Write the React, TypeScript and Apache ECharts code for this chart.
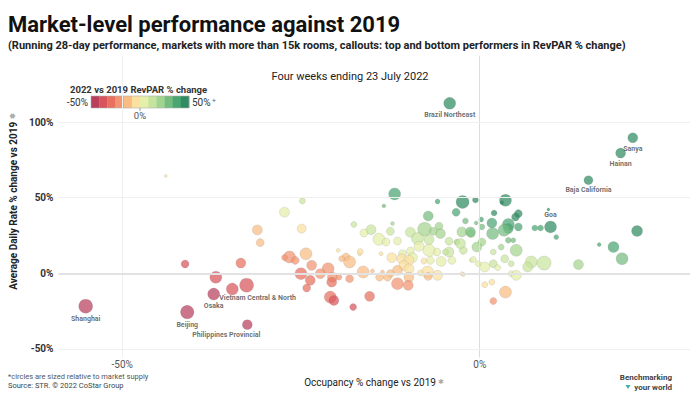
import React, { useEffect, useRef } from "react";
import * as echarts from "echarts";

// ---------- DATA ----------
const calloutNames = [
  "Shanghai",
  "Beijing",
  "Osaka",
  "Philippines Provincial",
  "Vietnam Central & North",
  "Brazil Northeast",
  "Sanya",
  "Hainan",
  "Baja California",
  "Goa",
];
const calloutOcc = [-55.1, -40.9, -37.2, -32.5, -32.6, -4.2, 21.4, 19.7, 15.2, 9.9];
const calloutAdr = [-21.7, -25.6, -13.7, -33.9, -7.8, 112.4, 89.6, 79.5, 61.6, 30.7];
const calloutSupply = [322, 300, 237, 164, 322, 237, 164, 164, 133, 237];

// [occupancy % change, ADR % change, supply (k rooms)]
const otherMarkets: [number, number, number][] = [
  [-43.9, 64.4, 15], [-24.8, 47.9, 59], [-27.3, 40.4, 164], [-31.1, 28.7, 164],
  [-24.9, 29.6, 133], [-30.7, 20.3, 105], [-24.3, 12.9, 237], [-26.6, 10.8, 237],
  [-27.3, 10.4, 59], [-25.8, 8.6, 105], [-33.4, 6.8, 164], [-41.2, 6.2, 105],
  [-36.9, -2.6, 237], [-25.0, -0.2, 237], [-23.7, -4.6, 164], [-24.2, -9.7, 105],
  [-34.6, -10.4, 237], [-11.9, 52.5, 237], [-13.4, 44.6, 26], [-5.9, 47.5, 41],
  [-2.4, 47.2, 278], [-0.6, 48.5, 59], [-3.3, 40.4, 105], [-7.2, 37.9, 164],
  [-2.0, 34.6, 59], [-0.5, 33.3, 26], [-17.6, 32.3, 59], [-12.2, 32.9, 26],
  [-15.2, 28.9, 164], [-16.2, 26.7, 105], [-14.1, 22.5, 237], [-12.5, 27.8, 105],
  [-13.1, 20.7, 105], [-11.5, 21.4, 105], [-9.7, 27.2, 164], [-7.7, 29.1, 322],
  [-5.7, 31.1, 105], [-5.5, 26.3, 164], [-6.5, 27.8, 105], [-8.7, 23.0, 237],
  [-7.1, 22.3, 164], [-4.3, 21.2, 105], [-2.5, 27.4, 164], [-1.2, 26.3, 105],
  [-3.2, 20.7, 59], [-2.3, 15.2, 105], [-4.3, 14.1, 164], [-6.0, 14.1, 105],
  [-7.1, 15.2, 237], [-8.5, 17.9, 164], [-9.7, 14.8, 105], [-10.8, 13.0, 105],
  [-9.4, 10.4, 164], [-3.9, 8.6, 105], [-5.4, 7.9, 164], [-6.9, 8.6, 105],
  [-7.8, 8.1, 59], [-1.2, 8.6, 26], [-12.3, 10.4, 164], [-10.9, 9.7, 164],
  [-9.9, 8.6, 164], [-10.6, 5.3, 164], [-9.9, 3.1, 164], [-11.5, 2.0, 164],
  [-12.5, -0.2, 105], [-9.9, -2.5, 164], [-11.5, -6.8, 237], [-10.0, -7.9, 164],
  [-7.3, 0.9, 237], [-7.2, -2.0, 105], [-5.9, -1.3, 164], [-8.3, 0.2, 59],
  [-2.3, -0.7, 26], [-13.6, 0.9, 26], [-16.8, 13.0, 26], [-18.7, 10.8, 105],
  [-18.2, 7.5, 237], [-19.3, 9.7, 59], [-19.8, 15.2, 26], [-16.7, 14.4, 59],
  [-13.8, 13.0, 26], [-23.5, 5.3, 164], [-21.2, 3.1, 237], [-22.3, -0.2, 164],
  [-20.6, -2.5, 164], [-20.7, -5.8, 164], [-19.7, -2.5, 59], [-18.2, -3.5, 105],
  [-16.3, 0.9, 237], [-15.0, 1.5, 26], [-14.0, -2.5, 105], [-12.9, -2.5, 105],
  [-20.9, -15.7, 237], [-20.4, -17.9, 164], [-15.4, -15.2, 164], [-17.7, -22.3, 80],
  [3.6, 48.3, 237], [3.1, 46.8, 26], [2.0, 39.9, 59], [5.4, 39.5, 105],
  [5.0, 37.3, 105], [0.2, 35.6, 41], [1.7, 33.3, 164], [4.0, 32.3, 237],
  [5.4, 30.7, 105], [4.0, 29.6, 164], [7.7, 30.0, 59], [8.5, 30.0, 59],
  [9.6, 42.2, 15], [10.7, 24.0, 41], [-1.3, 27.4, 164], [0.3, 30.7, 59],
  [1.8, 26.3, 237], [3.4, 28.5, 237], [4.0, 21.9, 59], [4.7, 21.9, 41],
  [0.3, 20.7, 105], [-0.4, 17.4, 164], [1.9, 14.1, 59], [3.0, 17.4, 59],
  [5.1, 15.2, 237], [3.5, 9.7, 105], [4.4, 6.4, 59], [1.9, 6.4, 105],
  [0.7, 4.2, 164], [2.5, 3.8, 59], [4.4, -0.2, 59], [7.2, 7.5, 237],
  [6.7, 4.2, 164], [9.0, 6.8, 322], [5.1, -1.3, 164], [-2.7, 19.7, 164],
  [-4.8, 14.1, 59], [-0.9, 9.1, 59], [-0.2, 6.4, 59], [-2.5, -0.2, 26],
  [0.7, -7.5, 59], [1.7, -5.8, 59], [3.6, -12.4, 237], [1.9, -18.3, 80],
  [22.0, 28.0, 199], [18.7, 17.4, 199], [19.9, 9.7, 237], [16.7, 19.0, 26],
  [13.8, 5.8, 164],
];

const xTickValues = [-50, 0];
const yTickValues = [-50, 0, 50, 100];
const legendColors = [
  "#b83f5d", "#d8545c", "#e8705f", "#f29470", "#f9bd83", "#fbe0a0",
  "#e5efa9", "#c7e49c", "#a3d48f", "#74bd7f", "#4aa571", "#2f8b61",
];
const legendMin = -50;
const legendMax = 50;

// ---------- HELPERS ----------
const revpar = (o: number, a: number) => ((1 + o / 100) * (1 + a / 100) - 1) * 100;

const labelPlacement: Record<string, any> = {
  Goa: { position: "top", distance: 2 },
  "Philippines Provincial": { position: "bottom", distance: 2, offset: [-21, 0] },
  "Vietnam Central & North": { position: "bottom", distance: 2, offset: [11, 0] },
};

const FONT = "Roboto, 'Noto Sans', sans-serif";

export default function App() {
  const ref = useRef<HTMLDivElement>(null);

  useEffect(() => {
    if (!ref.current) return;
    const chart = echarts.init(ref.current, undefined, { renderer: "svg" });

    const pts: any[] = otherMarkets.map(([o, a, s]) => ({ value: [o, a, s, revpar(o, a)] }));
    calloutNames.forEach((n, i) => {
      const o = calloutOcc[i];
      const a = calloutAdr[i];
      const pl = labelPlacement[n] || { position: "bottom", distance: 2 };
      pts.push({
        name: n,
        value: [o, a, calloutSupply[i], revpar(o, a)],
        label: {
          show: true,
          formatter: "{b}",
          fontSize: 7,
          fontWeight: "bold",
          color: "#333",
          fontFamily: FONT,
          ...pl,
        },
      });
    });

    const step = (legendMax - legendMin) / legendColors.length;
    const pieces = legendColors.map((c, i) => {
      const lo = legendMin + i * step;
      const hi = lo + step;
      if (i === 0) return { lt: hi, color: c };
      if (i === legendColors.length - 1) return { gte: lo, color: c };
      return { gte: lo, lt: hi, color: c };
    });

    const gridLine = (c: string, w: number) => ({ color: c, width: w, type: "solid" });
    const markData: any[] = [
      ...xTickValues.map((v) => ({ xAxis: v, lineStyle: gridLine(v === 0 ? "#dcdcdc" : "#efefef", 1) })),
      ...yTickValues.map((v) => ({ yAxis: v, lineStyle: gridLine(v === 0 ? "#e2e2e2" : "#f0f0f0", v === 0 ? 2 : 1) })),
    ];

    // Legend graphic
    const lgX = 91;
    const lgY = 96;
    const sw = 98 / legendColors.length;
    const legendEls: any[] = legendColors.map((c, i) => ({
      type: "rect",
      shape: { x: lgX + i * sw, y: lgY, width: sw + 0.3, height: 12 },
      style: { fill: c },
      silent: true,
    }));
    legendEls.push({
      type: "rect",
      shape: { x: lgX, y: lgY, width: 98, height: 12 },
      style: { fill: "none", stroke: "#b0b0b0", lineWidth: 0.6 },
      silent: true,
    });
    legendEls.push({
      type: "line",
      shape: { x1: lgX + 49, y1: lgY + 12, x2: lgX + 49, y2: lgY + 15 },
      style: { stroke: "#888", lineWidth: 0.8 },
    });

    const txt = (text: string, x: number, y: number, o: any = {}) => ({
      type: "text",
      x,
      y,
      silent: true,
      style: {
        text,
        fontFamily: FONT,
        fontSize: 10,
        fill: "#333",
        align: "left",
        verticalAlign: "middle",
        ...o,
      },
    });

    chart.setOption({
      animation: false,
      backgroundColor: "#ffffff",
      textStyle: { fontFamily: FONT },
      grid: { left: 53, right: 10, top: 56, bottom: 37 },
      xAxis: {
        type: "value",
        min: -58.9,
        max: 29.4,
        splitLine: { show: false },
        axisLine: { show: false },
        axisTick: { show: false, customValues: xTickValues },
        axisLabel: {
          customValues: xTickValues,
          formatter: (v: number) => `${v}%`,
          color: "#555",
          fontSize: 10,
          margin: 2,
          fontFamily: FONT,
        },
        name: "Occupancy % change vs 2019 {i|✱}",
        nameLocation: "middle",
        nameGap: 20,
        nameTextStyle: {
          fontSize: 10,
          color: "#222",
          fontFamily: FONT,
          rich: { i: { fontSize: 7, color: "#aaa" } },
        },
      },
      yAxis: {
        type: "value",
        min: -55.3,
        max: 143.7,
        splitLine: { show: false },
        axisLine: { show: true, lineStyle: { color: "#e8e8e8", width: 1 } },
        axisTick: { show: false, customValues: yTickValues },
        axisLabel: {
          customValues: yTickValues,
          formatter: (v: number) => `${v}%`,
          color: "#333",
          fontSize: 10,
          fontWeight: "bold",
          margin: 5,
          fontFamily: FONT,
        },
        name: "Average Daily Rate % change vs 2019 {i|✱}",
        nameLocation: "middle",
        nameGap: 28,
        nameRotate: 90,
        nameTextStyle: {
          fontSize: 10,
          fontWeight: "bold",
          color: "#222",
          fontFamily: FONT,
          padding: [0, 0, 0, 10],
          rich: { i: { fontSize: 7, color: "#aaa" } },
        },
      },
      visualMap: {
        show: false,
        type: "piecewise",
        dimension: 3,
        seriesIndex: 0,
        pieces,
      },
      series: [
        {
          type: "scatter",
          data: pts,
          z: 3,
          symbolSize: (val: number[]) => Math.sqrt(val[2]) * 0.78,
          itemStyle: {
            opacity: 0.72,
            borderColor: "rgba(110,110,110,0.35)",
            borderWidth: 0.6,
          },
          emphasis: { disabled: true },
        },
        {
          type: "scatter",
          data: [],
          z: 1,
          silent: true,
          markLine: {
            silent: true,
            symbol: "none",
            label: { show: false },
            data: markData,
          },
        },
      ],
      graphic: [
        txt("Market-level performance against 2019", 8, 24, { fontSize: 22, fontWeight: "bold", fill: "#111" }),
        txt(
          "(Running 28-day performance, markets with more than 15k rooms, callouts: top and bottom performers in RevPAR % change)",
          8,
          45,
          { fontSize: 11, fontWeight: "bold", fill: "#222" }
        ),
        txt("Four weeks ending 23 July 2022", 350, 76, { fontSize: 11, align: "center", fill: "#222" }),
        txt("2022 vs 2019 RevPAR % change", 70, 89, { fontSize: 9.5, fontWeight: "bold", fill: "#333" }),
        txt("-50%", 88, 102, { fontSize: 10, align: "right", fill: "#333" }),
        txt("50%", 192, 102, { fontSize: 10, fill: "#333" }),
        txt("+", 212, 101, { fontSize: 7, fill: "#666" }),
        txt("0%", 140, 115, { fontSize: 9.5, align: "center", fill: "#555" }),
        ...legendEls,
        txt("*circles are sized relative to market supply", 8, 376, { fontSize: 7.5, fill: "#555" }),
        txt("Source: STR. © 2022 CoStar Group", 8, 385, { fontSize: 7.5, fill: "#444" }),
        txt("Benchmarking", 672, 377, { fontSize: 8, fontWeight: "bold", fill: "#444", align: "right" }),
        txt("your world", 672, 387, { fontSize: 8, fontWeight: "bold", fill: "#444", align: "right" }),
        {
          type: "polygon",
          silent: true,
          shape: { points: [[625.5, 385], [630.5, 385], [628, 389]] },
          style: { fill: "#3bb3a6" },
        },
      ],
    });

    return () => chart.dispose();
  }, []);

  return (
    <div
      ref={ref}
      style={{ position: "fixed", left: 0, top: 0, width: 700, height: 394, background: "#fff" }}
    />
  );
}
